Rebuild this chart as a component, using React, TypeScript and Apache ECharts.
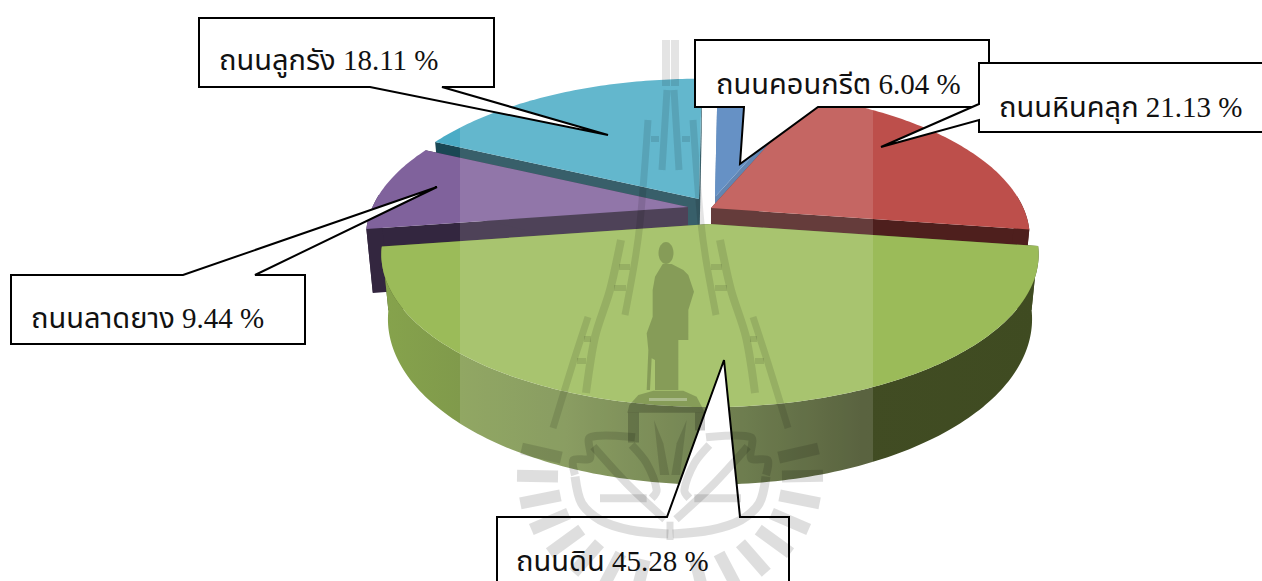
import React, { useEffect, useRef } from "react";
import * as echarts from "echarts";

const categories = ["ถนนคอนกรีต", "ถนนหินคลุก", "ถนนดิน", "ถนนลาดยาง", "ถนนลูกรัง"];
const percents = [6.04, 21.13, 45.28, 9.44, 18.11];
const startAngleDeg = -89.4;

// slice explosion / look (same order as categories)
const apexes = [[715, 197, 1], [711, 208, 0.97], [710, 224, 1], [688, 207, 0.98], [699, 199, 0.985]];
const topColors = ["#4f81bd", "#bd4f4b", "#9bbb59", "#80629c", "#4bacc6"];
const wallColors = ["#4a73a6", "#4e1f1d", "#414c23", "#33263f", "#1a4754"];
const paintOrder = [4, 0, 1, 3, 2];

const RX = 322, KY = 146.5, PERSP = 0.2, DEPTH = 62, SHRINK = 0.98;

const callouts = [
  { i: 4, box: [199, 18, 494, 87], tail: [[442, 87], [608, 135], [370, 87]], side: "bottom", tx: 219, ty: 45 },
  { i: 0, box: [695, 40, 989, 107], tail: [[818, 107], [740, 164], [744, 107]], side: "bottom", tx: 716, ty: 69 },
  { i: 1, box: [979, 63, 1280, 132], tail: [[979, 104], [881, 147], [979, 120]], side: "left", tx: 999, ty: 92 },
  { i: 3, box: [11, 275, 305, 344], tail: [[183, 275], [437, 187], [255, 275]], side: "top", tx: 31, ty: 303 },
  { i: 2, box: [497, 517, 789, 600], tail: [[667, 517], [724, 360], [740, 517]], side: "top", tx: 516, ty: 546 },
];

function project(deg: number, a: number[]) {
  const t = (deg * Math.PI) / 180;
  const X = Math.cos(t), Y = Math.sin(t);
  const s = 1 / (1 - PERSP * Y);
  return { x: a[0] + RX * a[2] * X * s, y: a[1] + KY * a[2] * Y * s, s };
}
function bottom(p: { x: number; y: number; s: number }, a: number[]) {
  return [a[0] + (p.x - a[0]) * SHRINK, p.y + DEPTH * p.s];
}

const total = percents.reduce((u, v) => u + v, 0);
const ranges = (() => {
  let cur = startAngleDeg;
  return percents.map((v) => {
    const r = [cur, cur + (v / total) * 360];
    cur = r[1];
    return r;
  });
})();

function renderSlice(_: any, api: any) {
  const i = api.value(0);
  const [a0, a1] = ranges[i];
  const a = apexes[i];
  const top: number[][] = [[a[0], a[1]]];
  for (let d = a0; d < a1; d += 1) { const p = project(d, a); top.push([p.x, p.y]); }
  const pe = project(a1, a); top.push([pe.x, pe.y]);
  const children: any[] = [];
  const apexB = [a[0], a[1] + DEPTH];
  [a0, a1].forEach((d) => {
    const p = project(d, a);
    children.push({
      type: "polygon",
      shape: { points: [[a[0], a[1]], [p.x, p.y], bottom(p, a), apexB] },
      style: { fill: wallColors[i] },
    });
  });
  const from = Math.max(a0, -5), to = Math.min(a1, 185);
  if (to > from) {
    const upper: number[][] = [], lower: number[][] = [];
    for (let d = from; d <= to + 0.001; d += Math.min(1, Math.max(to - d, 0.001))) {
      const p = project(d, a);
      upper.push([p.x, p.y]);
      lower.unshift(bottom(p, a));
      if (d >= to) break;
    }
    const fill = i === 2
      ? new echarts.graphic.LinearGradient(0, 0, 1, 0, [
          { offset: 0, color: "#86a34c" },
          { offset: 0.28, color: "#788e4a" },
          { offset: 0.54, color: "#596b35" },
          { offset: 0.73, color: "#414c23" },
          { offset: 1, color: "#3f4b21" },
        ])
      : wallColors[i];
    children.push({ type: "polygon", shape: { points: upper.concat(lower) }, style: { fill } });
  }
  children.push({ type: "polygon", shape: { points: top }, style: { fill: topColors[i] } });
  return { type: "group", children };
}

// ---- watermark helpers
const WM = "rgba(0,0,0,0.105)";
const WM3 = "rgba(0,0,0,0.13)";
const WM2 = "rgba(0,0,0,0.2)";
const mirror = (pts: number[][]) => pts.map(([x, y]) => [1341 - x, y]);
const stroke = (pts: number[][], w = 7, c = WM) => ({
  type: "polyline", silent: true, z: 50,
  shape: { points: pts, smooth: 0.3 },
  style: { stroke: c, lineWidth: w, fill: "none" },
});
const z6 = (pts: number[][]) => pts.map(([x, y]) => [540 + x / 3, 220 + y / 3]);
const z4 = (pts: number[][]) => pts.map(([x, y]) => [500 + x / 3, 380 + y / 3]);

function watermark() {
  const out: any[] = [];
  const both = (pts: number[][], w = 7, c = WM) => { out.push(stroke(pts, w, c)); out.push(stroke(mirror(pts), w, c)); };
  both([[666, 40], [666, 86]], 8);
  both([[667, 90], [662, 170]], 7);
  both([[648, 120], [645, 163], [640, 223], [635, 260], [625, 315]], 7);
  both([[651, 139], [659, 139]], 6);
  both([[621, 240], [610, 290], [595, 337], [586, 393]], 8);
  both([[588, 317], [573, 363], [553, 428]], 7);
  both([[619, 267], [630, 267]], 6);
  both([[614, 288], [626, 288]], 6);
  both([[584, 339], [591, 339]], 6);
  both([[577, 361], [586, 361]], 6);
  // statue
  out.push({
    type: "ellipse", silent: true, z: 50,
    shape: { cx: 666, cy: 253, rx: 7.5, ry: 11 }, style: { fill: WM2 },
  });
  out.push({
    type: "polygon", silent: true, z: 50,
    shape: {
      points: z6([[368, 132], [345, 170], [338, 210], [338, 290], [320, 340], [325, 390], [320, 510], [330, 510], [335, 415], [345, 420], [345, 510], [415, 510], [415, 360], [445, 360], [445, 270], [462, 215], [445, 165], [430, 150], [395, 132]]),
    },
    style: { fill: WM2 },
  });
  // pedestal
  out.push({
    type: "polygon", silent: true, z: 50,
    shape: { points: z6([[262, 578], [268, 555], [295, 525], [340, 512], [430, 512], [470, 530], [495, 578]]) },
    style: { fill: WM2 },
  });
  out.push({ type: "rect", silent: true, z: 51, shape: { x: 649, y: 398, width: 38, height: 3 }, style: { fill: "rgba(255,255,255,0.3)" } });
  out.push({ type: "rect", silent: true, z: 50, shape: { x: 628, y: 412.5, width: 11, height: 30 }, style: { fill: WM2 } });
  out.push({ type: "rect", silent: true, z: 50, shape: { x: 695, y: 412.5, width: 10, height: 18 }, style: { fill: WM2 } });
  // shield
  both(z4([[225, 285], [220, 240], [270, 235], [270, 172], [405, 172]]), 8, WM3);
  both(z4([[225, 290], [245, 370], [300, 420], [390, 450], [505, 462]]), 9, WM3);
  both(z4([[280, 200], [380, 310], [495, 418]]), 8, WM3);
  both(z4([[395, 195], [440, 250], [470, 330], [455, 355]]), 8, WM3);
  both(z4([[300, 355], [440, 355]]), 8, WM3);
  out.push(stroke(z4([[510, 425], [510, 480]]), 7, WM3));
  [[462, 120, 490, 190, 508, 285, 480, 285], [560, 120, 530, 190, 514, 285, 540, 285]].forEach((q) => {
    out.push({
      type: "polygon", silent: true, z: 50,
      shape: { points: z4([[q[0], q[1]], [q[2], q[3]], [q[4], q[5]], [q[6], q[7]]]) },
      style: { fill: WM3 },
    });
  });
  // rays
  for (let d = -14; d <= 194; d += 13) {
    if (d > 80 && d < 100) continue;
    const t = (d * Math.PI) / 180;
    const c = Math.cos(t), sn = Math.sin(t);
    out.push({
      type: "line", silent: true, z: 50,
      shape: { x1: 670 + 112 * c, y1: 478 + 84 * sn, x2: 670 + 153 * c, y2: 478 + 122 * sn },
      style: { stroke: WM3, lineWidth: 12 },
    });
  }
  return out;
}

function calloutShapes() {
  const out: any[] = [];
  callouts.forEach((c, n) => {
    const [x0, y0, x1, y1] = c.box;
    const [t0, tip, t1] = c.tail;
    let pts: number[][];
    if (c.side === "bottom") pts = [[x0, y0], [x1, y0], [x1, y1], t0, tip, t1, [x0, y1]];
    else if (c.side === "left") pts = [[x0, y0], [x1, y0], [x1, y1], [x0, y1], t1, tip, t0];
    else pts = [[x0, y0], t0, tip, t1, [x1, y0], [x1, y1], [x0, y1]];
    out.push({
      type: "polygon", z: 20 + n * 2,
      shape: { points: pts },
      style: { fill: "#ffffff", stroke: "#000000", lineWidth: 2, lineJoin: "miter" },
    });
    out.push({
      type: "text", z: 21 + n * 2, x: c.tx, y: c.ty,
      style: {
        text: `${categories[c.i]} ${percents[c.i].toFixed(2)} %`,
        fontFamily: '"Liberation Serif", "Noto Sans Thai", "Noto Sans", serif',
        fontSize: 29, fill: "#111111", textAlign: "left", textVerticalAlign: "top",
      },
    });
  });
  return out;
}

export default function App() {
  const ref = useRef<HTMLDivElement>(null);
  useEffect(() => {
    document.body.style.margin = "0";
    const chart = echarts.init(ref.current!, undefined, { renderer: "svg" });
    chart.setOption({
      animation: false,
      backgroundColor: "#ffffff",
      series: [{
        type: "custom",
        coordinateSystem: "none",
        silent: true,
        z: 1,
        data: paintOrder.map((i) => [i, percents[i]]),
        encode: { value: [0, 1] },
        renderItem: renderSlice,
      }],
      graphic: [
        { type: "rect", z: 10, silent: true, shape: { x: 460, y: 0, width: 413, height: 581 }, style: { fill: "rgba(255,255,255,0.135)" } },
        ...calloutShapes(),
        ...watermark(),
      ],
    });
    return () => chart.dispose();
  }, []);
  return <div ref={ref} style={{ position: "fixed", left: 0, top: 0, width: 1262, height: 581 }} />;
}
